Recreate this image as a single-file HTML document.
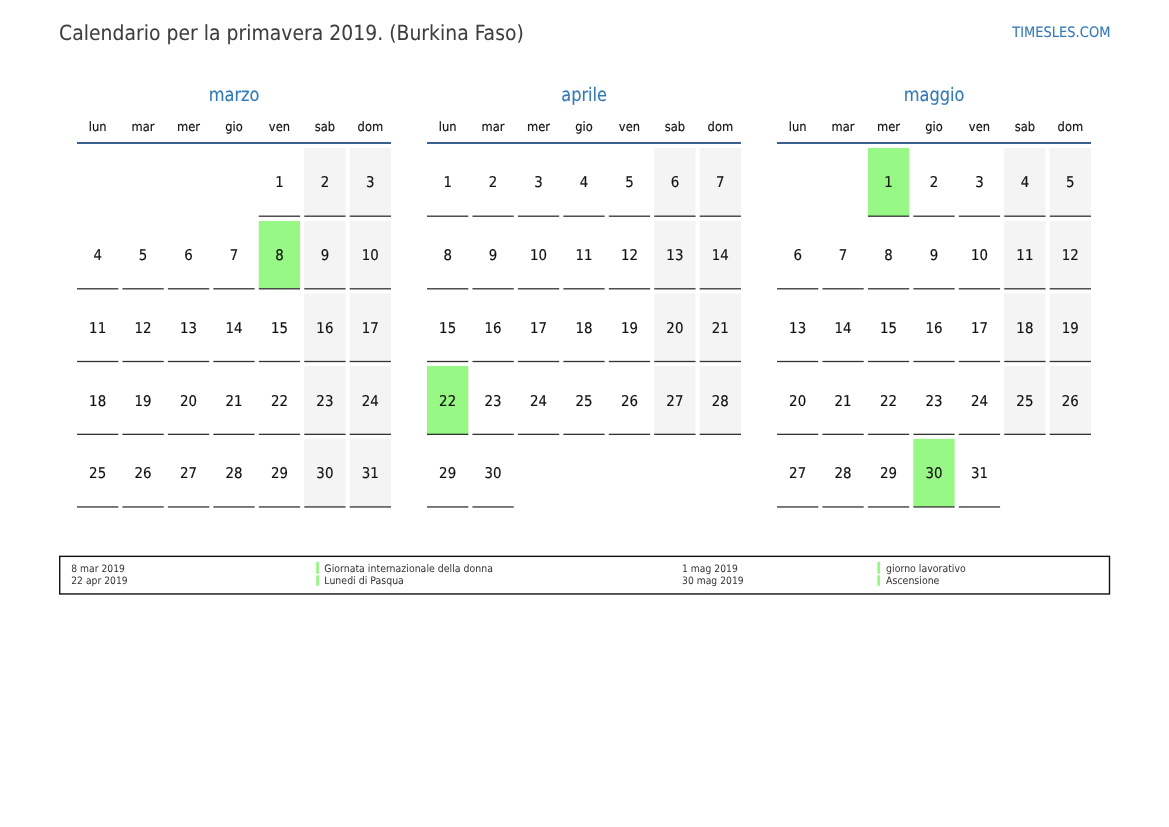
<!DOCTYPE html>
<html lang="it"><head><meta charset="utf-8"><title>Calendario per la primavera 2019. (Burkina Faso)</title>
<style>html,body{margin:0;padding:0;background:#fff}body{width:1169px;height:827px;overflow:hidden}svg{display:block}text{font-family:"DejaVu Sans Condensed", "DejaVu Sans", "Liberation Sans", sans-serif;text-rendering:geometricPrecision;font-stretch:condensed;stroke-width:2.2px;stroke-linejoin:round}.t{stroke:#3d3d3d;stroke-width:.6px}.b,.m{stroke:#337ab7;stroke-width:1px}.w,.d{stroke:#111;stroke-width:1.7px}.l{stroke:none}.l.n{font-size:104.6px}
.t{font-size:209.3px;fill:#3d3d3d}.b{font-size:145px;fill:#337ab7}.m{font-size:186.5px;fill:#337ab7}.w{font-size:128px;fill:#111}.d{font-size:149px;fill:#111}.l{font-size:102.7px;fill:#333}
</style></head><body>
<svg width="1169" height="827" viewBox="0 0 11690 8270">
<rect width="11690" height="8270" fill="#fff"/>
<text class="t" x="591" y="400">Calendario per la primavera 2019. (Burkina Faso)</text>
<text class="b" x="11104" y="369" text-anchor="end">TIMESLES.COM</text>
<g>
<text class="m" transform="translate(2341 1010) scale(0.963 1)" text-anchor="middle">marzo</text>
<text class="w" x="976.5" y="1308" text-anchor="middle">lun</text>
<text class="w" x="1431" y="1308" text-anchor="middle">mar</text>
<text class="w" x="1885.5" y="1308" text-anchor="middle">mer</text>
<text class="w" x="2340" y="1308" text-anchor="middle">gio</text>
<text class="w" x="2794.5" y="1308" text-anchor="middle">ven</text>
<text class="w" x="3249" y="1308" text-anchor="middle">sab</text>
<text class="w" x="3703.5" y="1308" text-anchor="middle">dom</text>
<rect x="770" y="1420" width="3140" height="20" fill="#3b5f8e"/>
<rect x="2588" y="2155.5" width="413" height="13" fill="#000" fill-opacity="0.8"/>
<text class="d" x="2794.5" y="1870" text-anchor="middle">1</text>
<rect x="3042.5" y="1479" width="413" height="679.5" fill="#f4f4f4"/>
<rect x="3042.5" y="2155.5" width="413" height="13" fill="#000" fill-opacity="0.8"/>
<text class="d" x="3249" y="1870" text-anchor="middle">2</text>
<rect x="3497" y="1479" width="413" height="679.5" fill="#f4f4f4"/>
<rect x="3497" y="2155.5" width="413" height="13" fill="#000" fill-opacity="0.8"/>
<text class="d" x="3703.5" y="1870" text-anchor="middle">3</text>
<rect x="770" y="2881.5" width="413" height="13" fill="#000" fill-opacity="0.8"/>
<text class="d" x="976.5" y="2597.6" text-anchor="middle">4</text>
<rect x="1224.5" y="2881.5" width="413" height="13" fill="#000" fill-opacity="0.8"/>
<text class="d" x="1431" y="2597.6" text-anchor="middle">5</text>
<rect x="1679" y="2881.5" width="413" height="13" fill="#000" fill-opacity="0.8"/>
<text class="d" x="1885.5" y="2597.6" text-anchor="middle">6</text>
<rect x="2133.5" y="2881.5" width="413" height="13" fill="#000" fill-opacity="0.8"/>
<text class="d" x="2340" y="2597.6" text-anchor="middle">7</text>
<rect x="2588" y="2210" width="413" height="674.5" fill="#98f886"/>
<rect x="2588" y="2881.5" width="413" height="13" fill="#000" fill-opacity="0.8"/>
<text class="d" x="2794.5" y="2597.6" text-anchor="middle">8</text>
<rect x="3042.5" y="2210" width="413" height="674.5" fill="#f4f4f4"/>
<rect x="3042.5" y="2881.5" width="413" height="13" fill="#000" fill-opacity="0.8"/>
<text class="d" x="3249" y="2597.6" text-anchor="middle">9</text>
<rect x="3497" y="2210" width="413" height="674.5" fill="#f4f4f4"/>
<rect x="3497" y="2881.5" width="413" height="13" fill="#000" fill-opacity="0.8"/>
<text class="d" x="3703.5" y="2597.6" text-anchor="middle">10</text>
<rect x="770" y="3608.5" width="413" height="13" fill="#000" fill-opacity="0.8"/>
<text class="d" x="976.5" y="3325.2" text-anchor="middle">11</text>
<rect x="1224.5" y="3608.5" width="413" height="13" fill="#000" fill-opacity="0.8"/>
<text class="d" x="1431" y="3325.2" text-anchor="middle">12</text>
<rect x="1679" y="3608.5" width="413" height="13" fill="#000" fill-opacity="0.8"/>
<text class="d" x="1885.5" y="3325.2" text-anchor="middle">13</text>
<rect x="2133.5" y="3608.5" width="413" height="13" fill="#000" fill-opacity="0.8"/>
<text class="d" x="2340" y="3325.2" text-anchor="middle">14</text>
<rect x="2588" y="3608.5" width="413" height="13" fill="#000" fill-opacity="0.8"/>
<text class="d" x="2794.5" y="3325.2" text-anchor="middle">15</text>
<rect x="3042.5" y="2933.5" width="413" height="678" fill="#f4f4f4"/>
<rect x="3042.5" y="3608.5" width="413" height="13" fill="#000" fill-opacity="0.8"/>
<text class="d" x="3249" y="3325.2" text-anchor="middle">16</text>
<rect x="3497" y="2933.5" width="413" height="678" fill="#f4f4f4"/>
<rect x="3497" y="3608.5" width="413" height="13" fill="#000" fill-opacity="0.8"/>
<text class="d" x="3703.5" y="3325.2" text-anchor="middle">17</text>
<rect x="770" y="4337" width="413" height="13" fill="#000" fill-opacity="0.8"/>
<text class="d" x="976.5" y="4062.8" text-anchor="middle">18</text>
<rect x="1224.5" y="4337" width="413" height="13" fill="#000" fill-opacity="0.8"/>
<text class="d" x="1431" y="4062.8" text-anchor="middle">19</text>
<rect x="1679" y="4337" width="413" height="13" fill="#000" fill-opacity="0.8"/>
<text class="d" x="1885.5" y="4062.8" text-anchor="middle">20</text>
<rect x="2133.5" y="4337" width="413" height="13" fill="#000" fill-opacity="0.8"/>
<text class="d" x="2340" y="4062.8" text-anchor="middle">21</text>
<rect x="2588" y="4337" width="413" height="13" fill="#000" fill-opacity="0.8"/>
<text class="d" x="2794.5" y="4062.8" text-anchor="middle">22</text>
<rect x="3042.5" y="3660.5" width="413" height="679.5" fill="#f4f4f4"/>
<rect x="3042.5" y="4337" width="413" height="13" fill="#000" fill-opacity="0.8"/>
<text class="d" x="3249" y="4062.8" text-anchor="middle">23</text>
<rect x="3497" y="3660.5" width="413" height="679.5" fill="#f4f4f4"/>
<rect x="3497" y="4337" width="413" height="13" fill="#000" fill-opacity="0.8"/>
<text class="d" x="3703.5" y="4062.8" text-anchor="middle">24</text>
<rect x="770" y="5063" width="413" height="13" fill="#000" fill-opacity="0.8"/>
<text class="d" x="976.5" y="4780.4" text-anchor="middle">25</text>
<rect x="1224.5" y="5063" width="413" height="13" fill="#000" fill-opacity="0.8"/>
<text class="d" x="1431" y="4780.4" text-anchor="middle">26</text>
<rect x="1679" y="5063" width="413" height="13" fill="#000" fill-opacity="0.8"/>
<text class="d" x="1885.5" y="4780.4" text-anchor="middle">27</text>
<rect x="2133.5" y="5063" width="413" height="13" fill="#000" fill-opacity="0.8"/>
<text class="d" x="2340" y="4780.4" text-anchor="middle">28</text>
<rect x="2588" y="5063" width="413" height="13" fill="#000" fill-opacity="0.8"/>
<text class="d" x="2794.5" y="4780.4" text-anchor="middle">29</text>
<rect x="3042.5" y="4388.5" width="413" height="677.5" fill="#f4f4f4"/>
<rect x="3042.5" y="5063" width="413" height="13" fill="#000" fill-opacity="0.8"/>
<text class="d" x="3249" y="4780.4" text-anchor="middle">30</text>
<rect x="3497" y="4388.5" width="413" height="677.5" fill="#f4f4f4"/>
<rect x="3497" y="5063" width="413" height="13" fill="#000" fill-opacity="0.8"/>
<text class="d" x="3703.5" y="4780.4" text-anchor="middle">31</text>
</g>
<g>
<text class="m" transform="translate(5841 1010) scale(0.963 1)" text-anchor="middle">aprile</text>
<text class="w" x="4476.5" y="1308" text-anchor="middle">lun</text>
<text class="w" x="4931" y="1308" text-anchor="middle">mar</text>
<text class="w" x="5385.5" y="1308" text-anchor="middle">mer</text>
<text class="w" x="5840" y="1308" text-anchor="middle">gio</text>
<text class="w" x="6294.5" y="1308" text-anchor="middle">ven</text>
<text class="w" x="6749" y="1308" text-anchor="middle">sab</text>
<text class="w" x="7203.5" y="1308" text-anchor="middle">dom</text>
<rect x="4270" y="1420" width="3140" height="20" fill="#3b5f8e"/>
<rect x="4270" y="2155.5" width="413" height="13" fill="#000" fill-opacity="0.8"/>
<text class="d" x="4476.5" y="1870" text-anchor="middle">1</text>
<rect x="4724.5" y="2155.5" width="413" height="13" fill="#000" fill-opacity="0.8"/>
<text class="d" x="4931" y="1870" text-anchor="middle">2</text>
<rect x="5179" y="2155.5" width="413" height="13" fill="#000" fill-opacity="0.8"/>
<text class="d" x="5385.5" y="1870" text-anchor="middle">3</text>
<rect x="5633.5" y="2155.5" width="413" height="13" fill="#000" fill-opacity="0.8"/>
<text class="d" x="5840" y="1870" text-anchor="middle">4</text>
<rect x="6088" y="2155.5" width="413" height="13" fill="#000" fill-opacity="0.8"/>
<text class="d" x="6294.5" y="1870" text-anchor="middle">5</text>
<rect x="6542.5" y="1479" width="413" height="679.5" fill="#f4f4f4"/>
<rect x="6542.5" y="2155.5" width="413" height="13" fill="#000" fill-opacity="0.8"/>
<text class="d" x="6749" y="1870" text-anchor="middle">6</text>
<rect x="6997" y="1479" width="413" height="679.5" fill="#f4f4f4"/>
<rect x="6997" y="2155.5" width="413" height="13" fill="#000" fill-opacity="0.8"/>
<text class="d" x="7203.5" y="1870" text-anchor="middle">7</text>
<rect x="4270" y="2881.5" width="413" height="13" fill="#000" fill-opacity="0.8"/>
<text class="d" x="4476.5" y="2597.6" text-anchor="middle">8</text>
<rect x="4724.5" y="2881.5" width="413" height="13" fill="#000" fill-opacity="0.8"/>
<text class="d" x="4931" y="2597.6" text-anchor="middle">9</text>
<rect x="5179" y="2881.5" width="413" height="13" fill="#000" fill-opacity="0.8"/>
<text class="d" x="5385.5" y="2597.6" text-anchor="middle">10</text>
<rect x="5633.5" y="2881.5" width="413" height="13" fill="#000" fill-opacity="0.8"/>
<text class="d" x="5840" y="2597.6" text-anchor="middle">11</text>
<rect x="6088" y="2881.5" width="413" height="13" fill="#000" fill-opacity="0.8"/>
<text class="d" x="6294.5" y="2597.6" text-anchor="middle">12</text>
<rect x="6542.5" y="2210" width="413" height="674.5" fill="#f4f4f4"/>
<rect x="6542.5" y="2881.5" width="413" height="13" fill="#000" fill-opacity="0.8"/>
<text class="d" x="6749" y="2597.6" text-anchor="middle">13</text>
<rect x="6997" y="2210" width="413" height="674.5" fill="#f4f4f4"/>
<rect x="6997" y="2881.5" width="413" height="13" fill="#000" fill-opacity="0.8"/>
<text class="d" x="7203.5" y="2597.6" text-anchor="middle">14</text>
<rect x="4270" y="3608.5" width="413" height="13" fill="#000" fill-opacity="0.8"/>
<text class="d" x="4476.5" y="3325.2" text-anchor="middle">15</text>
<rect x="4724.5" y="3608.5" width="413" height="13" fill="#000" fill-opacity="0.8"/>
<text class="d" x="4931" y="3325.2" text-anchor="middle">16</text>
<rect x="5179" y="3608.5" width="413" height="13" fill="#000" fill-opacity="0.8"/>
<text class="d" x="5385.5" y="3325.2" text-anchor="middle">17</text>
<rect x="5633.5" y="3608.5" width="413" height="13" fill="#000" fill-opacity="0.8"/>
<text class="d" x="5840" y="3325.2" text-anchor="middle">18</text>
<rect x="6088" y="3608.5" width="413" height="13" fill="#000" fill-opacity="0.8"/>
<text class="d" x="6294.5" y="3325.2" text-anchor="middle">19</text>
<rect x="6542.5" y="2933.5" width="413" height="678" fill="#f4f4f4"/>
<rect x="6542.5" y="3608.5" width="413" height="13" fill="#000" fill-opacity="0.8"/>
<text class="d" x="6749" y="3325.2" text-anchor="middle">20</text>
<rect x="6997" y="2933.5" width="413" height="678" fill="#f4f4f4"/>
<rect x="6997" y="3608.5" width="413" height="13" fill="#000" fill-opacity="0.8"/>
<text class="d" x="7203.5" y="3325.2" text-anchor="middle">21</text>
<rect x="4270" y="3660.5" width="413" height="679.5" fill="#98f886"/>
<rect x="4270" y="4337" width="413" height="13" fill="#000" fill-opacity="0.8"/>
<text class="d" x="4476.5" y="4062.8" text-anchor="middle">22</text>
<rect x="4724.5" y="4337" width="413" height="13" fill="#000" fill-opacity="0.8"/>
<text class="d" x="4931" y="4062.8" text-anchor="middle">23</text>
<rect x="5179" y="4337" width="413" height="13" fill="#000" fill-opacity="0.8"/>
<text class="d" x="5385.5" y="4062.8" text-anchor="middle">24</text>
<rect x="5633.5" y="4337" width="413" height="13" fill="#000" fill-opacity="0.8"/>
<text class="d" x="5840" y="4062.8" text-anchor="middle">25</text>
<rect x="6088" y="4337" width="413" height="13" fill="#000" fill-opacity="0.8"/>
<text class="d" x="6294.5" y="4062.8" text-anchor="middle">26</text>
<rect x="6542.5" y="3660.5" width="413" height="679.5" fill="#f4f4f4"/>
<rect x="6542.5" y="4337" width="413" height="13" fill="#000" fill-opacity="0.8"/>
<text class="d" x="6749" y="4062.8" text-anchor="middle">27</text>
<rect x="6997" y="3660.5" width="413" height="679.5" fill="#f4f4f4"/>
<rect x="6997" y="4337" width="413" height="13" fill="#000" fill-opacity="0.8"/>
<text class="d" x="7203.5" y="4062.8" text-anchor="middle">28</text>
<rect x="4270" y="5063" width="413" height="13" fill="#000" fill-opacity="0.8"/>
<text class="d" x="4476.5" y="4780.4" text-anchor="middle">29</text>
<rect x="4724.5" y="5063" width="413" height="13" fill="#000" fill-opacity="0.8"/>
<text class="d" x="4931" y="4780.4" text-anchor="middle">30</text>
</g>
<g>
<text class="m" transform="translate(9341 1010) scale(0.963 1)" text-anchor="middle">maggio</text>
<text class="w" x="7976.5" y="1308" text-anchor="middle">lun</text>
<text class="w" x="8431" y="1308" text-anchor="middle">mar</text>
<text class="w" x="8885.5" y="1308" text-anchor="middle">mer</text>
<text class="w" x="9340" y="1308" text-anchor="middle">gio</text>
<text class="w" x="9794.5" y="1308" text-anchor="middle">ven</text>
<text class="w" x="10249" y="1308" text-anchor="middle">sab</text>
<text class="w" x="10703.5" y="1308" text-anchor="middle">dom</text>
<rect x="7770" y="1420" width="3140" height="20" fill="#3b5f8e"/>
<rect x="8679" y="1479" width="413" height="679.5" fill="#98f886"/>
<rect x="8679" y="2155.5" width="413" height="13" fill="#000" fill-opacity="0.8"/>
<text class="d" x="8885.5" y="1870" text-anchor="middle">1</text>
<rect x="9133.5" y="2155.5" width="413" height="13" fill="#000" fill-opacity="0.8"/>
<text class="d" x="9340" y="1870" text-anchor="middle">2</text>
<rect x="9588" y="2155.5" width="413" height="13" fill="#000" fill-opacity="0.8"/>
<text class="d" x="9794.5" y="1870" text-anchor="middle">3</text>
<rect x="10042.5" y="1479" width="413" height="679.5" fill="#f4f4f4"/>
<rect x="10042.5" y="2155.5" width="413" height="13" fill="#000" fill-opacity="0.8"/>
<text class="d" x="10249" y="1870" text-anchor="middle">4</text>
<rect x="10497" y="1479" width="413" height="679.5" fill="#f4f4f4"/>
<rect x="10497" y="2155.5" width="413" height="13" fill="#000" fill-opacity="0.8"/>
<text class="d" x="10703.5" y="1870" text-anchor="middle">5</text>
<rect x="7770" y="2881.5" width="413" height="13" fill="#000" fill-opacity="0.8"/>
<text class="d" x="7976.5" y="2597.6" text-anchor="middle">6</text>
<rect x="8224.5" y="2881.5" width="413" height="13" fill="#000" fill-opacity="0.8"/>
<text class="d" x="8431" y="2597.6" text-anchor="middle">7</text>
<rect x="8679" y="2881.5" width="413" height="13" fill="#000" fill-opacity="0.8"/>
<text class="d" x="8885.5" y="2597.6" text-anchor="middle">8</text>
<rect x="9133.5" y="2881.5" width="413" height="13" fill="#000" fill-opacity="0.8"/>
<text class="d" x="9340" y="2597.6" text-anchor="middle">9</text>
<rect x="9588" y="2881.5" width="413" height="13" fill="#000" fill-opacity="0.8"/>
<text class="d" x="9794.5" y="2597.6" text-anchor="middle">10</text>
<rect x="10042.5" y="2210" width="413" height="674.5" fill="#f4f4f4"/>
<rect x="10042.5" y="2881.5" width="413" height="13" fill="#000" fill-opacity="0.8"/>
<text class="d" x="10249" y="2597.6" text-anchor="middle">11</text>
<rect x="10497" y="2210" width="413" height="674.5" fill="#f4f4f4"/>
<rect x="10497" y="2881.5" width="413" height="13" fill="#000" fill-opacity="0.8"/>
<text class="d" x="10703.5" y="2597.6" text-anchor="middle">12</text>
<rect x="7770" y="3608.5" width="413" height="13" fill="#000" fill-opacity="0.8"/>
<text class="d" x="7976.5" y="3325.2" text-anchor="middle">13</text>
<rect x="8224.5" y="3608.5" width="413" height="13" fill="#000" fill-opacity="0.8"/>
<text class="d" x="8431" y="3325.2" text-anchor="middle">14</text>
<rect x="8679" y="3608.5" width="413" height="13" fill="#000" fill-opacity="0.8"/>
<text class="d" x="8885.5" y="3325.2" text-anchor="middle">15</text>
<rect x="9133.5" y="3608.5" width="413" height="13" fill="#000" fill-opacity="0.8"/>
<text class="d" x="9340" y="3325.2" text-anchor="middle">16</text>
<rect x="9588" y="3608.5" width="413" height="13" fill="#000" fill-opacity="0.8"/>
<text class="d" x="9794.5" y="3325.2" text-anchor="middle">17</text>
<rect x="10042.5" y="2933.5" width="413" height="678" fill="#f4f4f4"/>
<rect x="10042.5" y="3608.5" width="413" height="13" fill="#000" fill-opacity="0.8"/>
<text class="d" x="10249" y="3325.2" text-anchor="middle">18</text>
<rect x="10497" y="2933.5" width="413" height="678" fill="#f4f4f4"/>
<rect x="10497" y="3608.5" width="413" height="13" fill="#000" fill-opacity="0.8"/>
<text class="d" x="10703.5" y="3325.2" text-anchor="middle">19</text>
<rect x="7770" y="4337" width="413" height="13" fill="#000" fill-opacity="0.8"/>
<text class="d" x="7976.5" y="4062.8" text-anchor="middle">20</text>
<rect x="8224.5" y="4337" width="413" height="13" fill="#000" fill-opacity="0.8"/>
<text class="d" x="8431" y="4062.8" text-anchor="middle">21</text>
<rect x="8679" y="4337" width="413" height="13" fill="#000" fill-opacity="0.8"/>
<text class="d" x="8885.5" y="4062.8" text-anchor="middle">22</text>
<rect x="9133.5" y="4337" width="413" height="13" fill="#000" fill-opacity="0.8"/>
<text class="d" x="9340" y="4062.8" text-anchor="middle">23</text>
<rect x="9588" y="4337" width="413" height="13" fill="#000" fill-opacity="0.8"/>
<text class="d" x="9794.5" y="4062.8" text-anchor="middle">24</text>
<rect x="10042.5" y="3660.5" width="413" height="679.5" fill="#f4f4f4"/>
<rect x="10042.5" y="4337" width="413" height="13" fill="#000" fill-opacity="0.8"/>
<text class="d" x="10249" y="4062.8" text-anchor="middle">25</text>
<rect x="10497" y="3660.5" width="413" height="679.5" fill="#f4f4f4"/>
<rect x="10497" y="4337" width="413" height="13" fill="#000" fill-opacity="0.8"/>
<text class="d" x="10703.5" y="4062.8" text-anchor="middle">26</text>
<rect x="7770" y="5063" width="413" height="13" fill="#000" fill-opacity="0.8"/>
<text class="d" x="7976.5" y="4780.4" text-anchor="middle">27</text>
<rect x="8224.5" y="5063" width="413" height="13" fill="#000" fill-opacity="0.8"/>
<text class="d" x="8431" y="4780.4" text-anchor="middle">28</text>
<rect x="8679" y="5063" width="413" height="13" fill="#000" fill-opacity="0.8"/>
<text class="d" x="8885.5" y="4780.4" text-anchor="middle">29</text>
<rect x="9133.5" y="4388.5" width="413" height="677.5" fill="#98f886"/>
<rect x="9133.5" y="5063" width="413" height="13" fill="#000" fill-opacity="0.8"/>
<text class="d" x="9340" y="4780.4" text-anchor="middle">30</text>
<rect x="9588" y="5063" width="413" height="13" fill="#000" fill-opacity="0.8"/>
<text class="d" x="9794.5" y="4780.4" text-anchor="middle">31</text>
</g>
<rect x="597" y="5563.5" width="10498" height="376" fill="none" stroke="#111" stroke-width="14"/>
<rect x="3162" y="5619" width="28" height="118" fill="#98f886"/>
<text class="l" x="712" y="5717">8 mar 2019</text>
<text class="l n" x="3243.5" y="5717">Giornata internazionale della donna</text>
<rect x="3162" y="5753" width="28" height="105" fill="#98f886"/>
<text class="l" x="712" y="5837">22 apr 2019</text>
<text class="l n" x="3243.5" y="5837">Lunedi di Pasqua</text>
<rect x="8773" y="5619" width="28" height="118" fill="#98f886"/>
<text class="l" x="6820" y="5717">1 mag 2019</text>
<text class="l n" x="8861" y="5717">giorno lavorativo</text>
<rect x="8773" y="5753" width="28" height="105" fill="#98f886"/>
<text class="l" x="6820" y="5837">30 mag 2019</text>
<text class="l n" x="8861" y="5837">Ascensione</text>
</svg></body></html>
